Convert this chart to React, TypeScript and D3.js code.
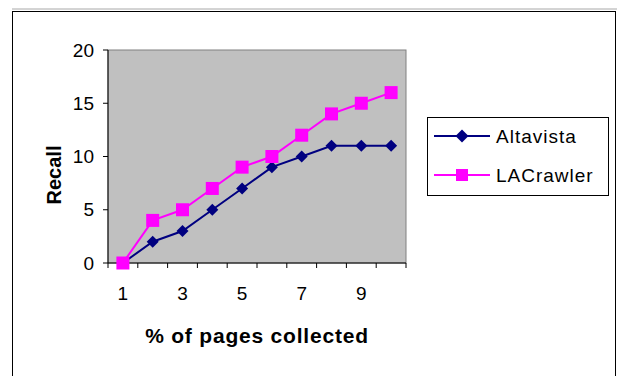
import React from "react";
import * as d3 from "d3";

// Percent-of-pages categories along the x axis
const categories = [1, 2, 3, 4, 5, 6, 7, 8, 9, 10];
const xTickLabels = [1, 3, 5, 7, 9];
const yTicks = [0, 5, 10, 15, 20];

// Recall series
const altavista = [0, 2, 3, 5, 7, 9, 10, 11, 11, 11];
const lacrawler = [0, 4, 5, 7, 9, 10, 12, 14, 15, 16];

const seriesNames = ["Altavista", "LACrawler"];

const W = 617;
const H = 376;
const plot = { left: 108, right: 406, top: 50, bottom: 263 };
const FONT = "'Liberation Sans', Arial, sans-serif";
const NAVY = "#000080";
const MAGENTA = "#FF00FF";

export default function App() {
  const x = d3
    .scaleBand<number>()
    .domain(categories)
    .range([plot.left, plot.right]);
  const y = d3.scaleLinear().domain([0, 20]).range([plot.bottom, plot.top]);
  const cx = (c: number) => (x(c) ?? 0) + x.bandwidth() / 2;

  const line = d3
    .line<number>()
    .x((_, i) => cx(categories[i]))
    .y((v) => y(v));

  const boundaries = categories.map((c) => x(c) ?? 0).concat([plot.right]);

  const diamond = (px: number, py: number, r: number) =>
    `M${px},${py - r}L${px + r},${py}L${px},${py + r}L${px - r},${py}Z`;

  const legendX = 427;
  const legendY = 117;
  const rows = [136, 175];

  return (
    <svg
      width={W}
      height={H}
      style={{ position: "absolute", left: 0, top: 0, background: "#fff" }}
      fontFamily={FONT}
    >
      {/* chart frame */}
      <line x1={12} x2={W} y1={9} y2={9} stroke="#a8a8a8" strokeWidth={1} />
      <rect
        x={12.5}
        y={11.5}
        width={603}
        height={420}
        fill="#fff"
        stroke="#000"
        strokeWidth={1}
      />

      {/* plot area */}
      <rect
        x={plot.left}
        y={plot.top}
        width={plot.right - plot.left}
        height={plot.bottom - plot.top}
        fill="#C0C0C0"
        stroke="#808080"
        strokeWidth={1}
      />
      <line
        x1={plot.left}
        x2={plot.left}
        y1={plot.top}
        y2={plot.bottom}
        stroke="#000"
        strokeWidth={1}
      />
      <line
        x1={plot.left}
        x2={plot.right}
        y1={plot.bottom}
        y2={plot.bottom}
        stroke="#000"
        strokeWidth={1}
      />

      {/* y axis */}
      {yTicks.map((t) => (
        <g key={`y${t}`}>
          <line
            x1={plot.left - 5}
            x2={plot.left}
            y1={y(t)}
            y2={y(t)}
            stroke="#000"
          />
          <text
            x={94}
            y={y(t)}
            textAnchor="end"
            dominantBaseline="central"
            fontSize={19}
          >
            {t}
          </text>
        </g>
      ))}

      {/* x axis */}
      {boundaries.map((b, i) => (
        <line
          key={`xt${i}`}
          x1={b}
          x2={b}
          y1={plot.bottom}
          y2={plot.bottom + 5}
          stroke="#000"
        />
      ))}
      {xTickLabels.map((c) => (
        <text
          key={`xl${c}`}
          x={cx(c)}
          y={300}
          textAnchor="middle"
          fontSize={19}
        >
          {c}
        </text>
      ))}

      {/* axis titles */}
      <text
        x={257}
        y={343}
        textAnchor="middle"
        fontSize={21}
        fontWeight="bold"
        letterSpacing={0.8}
      >
        % of pages collected
      </text>
      <text
        transform="translate(61,175) rotate(-90)"
        textAnchor="middle"
        fontSize={20}
        fontWeight="bold"
      >
        Recall
      </text>

      {/* series: Altavista first, LACrawler drawn over it */}
      <path d={line(altavista) ?? ""} fill="none" stroke={NAVY} strokeWidth={2} />
      {altavista.map((v, i) => (
        <path key={`d${i}`} d={diamond(cx(categories[i]), y(v), 6)} fill={NAVY} />
      ))}
      <path d={line(lacrawler) ?? ""} fill="none" stroke={MAGENTA} strokeWidth={2} />
      {lacrawler.map((v, i) => (
        <rect
          key={`s${i}`}
          x={cx(categories[i]) - 6.5}
          y={y(v) - 6.5}
          width={13}
          height={13}
          fill={MAGENTA}
        />
      ))}

      {/* legend */}
      <rect
        x={legendX + 0.5}
        y={legendY + 0.5}
        width={181}
        height={78}
        fill="#fff"
        stroke="#000"
      />
      <line x1={434} x2={490} y1={rows[0]} y2={rows[0]} stroke={NAVY} strokeWidth={2} />
      <path d={diamond(462, rows[0], 6.5)} fill={NAVY} />
      <line x1={434} x2={490} y1={rows[1]} y2={rows[1]} stroke={MAGENTA} strokeWidth={2} />
      <rect x={456} y={rows[1] - 6} width={12} height={12} fill={MAGENTA} />
      {seriesNames.map((n, i) => (
        <text
          key={n}
          x={496}
          y={rows[i]}
          dominantBaseline="central"
          fontSize={19}
          letterSpacing={1}
        >
          {n}
        </text>
      ))}
    </svg>
  );
}
